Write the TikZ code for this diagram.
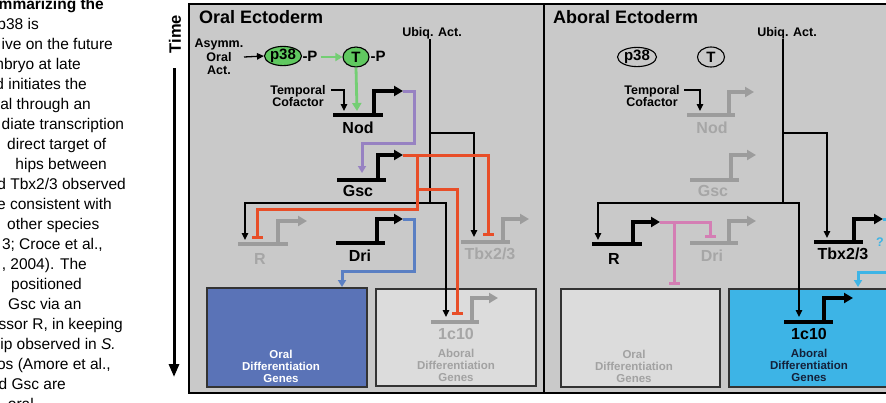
\documentclass[tikz,border=0pt]{standalone}
\usepackage{fontspec}
\setmainfont{Liberation Sans}
\usetikzlibrary{arrows.meta,shapes.geometric}
\definecolor{panelbg}{HTML}{C9C9C9}
\definecolor{offline}{HTML}{9C9C9C}
\definecolor{offtext}{HTML}{A6A6A6}
\definecolor{boxgray}{HTML}{DCDCDC}
\definecolor{boxtext}{HTML}{A2A2A2}
\definecolor{gfill}{HTML}{60C860}
\definecolor{garrow}{HTML}{74CE74}
\definecolor{repred}{HTML}{E84E28}
\definecolor{purp}{HTML}{9782C2}
\definecolor{bluec}{HTML}{5A7FC3}
\definecolor{pinkc}{HTML}{D47EB4}
\definecolor{cyanc}{HTML}{3DB4E6}
\definecolor{oralblue}{HTML}{5A73B7}
\definecolor{navytext}{HTML}{14213A}
\newcommand{\mygene}[7]{%
  \draw[gbar,#1] (#2,#4) -- (#3,#4);
  \draw[garr,#1] (#5,#4) |- (#6,#7);}
\begin{document}
\begin{tikzpicture}[x=1pt,y=-1pt,
  para/.style={font=\fontsize{15.5}{18}\selectfont, inner sep=0},
  lbl/.style={font=\bfseries\fontsize{12.5}{12.5}\selectfont, align=center, inner sep=0},
  gname/.style={font=\bfseries\fontsize{16}{18}\selectfont, inner sep=0},
  boxtxt/.style={font=\bfseries\fontsize{11.5}{12}\selectfont, align=center, inner sep=0},
  gbar/.style={line width=3.4pt},
  garr/.style={line width=3.4pt, -{Triangle[length=9pt,width=10pt]}},
  conn/.style={line width=1.3pt, -{Triangle[length=7pt,width=6.5pt]}},
  rep/.style={line width=3pt, -{Bar[width=11pt]}},
  actc/.style={line width=3pt, -{Triangle[length=7pt,width=8pt]}},
  panel/.style={draw=black, line width=2.4pt, fill=panelbg},
  dbox/.style={draw=black!80, line width=1.2pt},
  protein/.style={ellipse, draw=black, line width=1.1pt, inner sep=0,
     font=\bfseries\fontsize{15}{15}\selectfont}]
\useasboundingbox (0,0) rectangle (886,402);

% ---------------- cropped caption text ----------------
\node[para, anchor=base east, font=\bfseries\fontsize{15.5}{18}\selectfont] (p1) at (104,9) {mmarizing the};
\node[para, anchor=base east] (p2) at (39,29) {p38 is};
\node[para, anchor=base west] (p3) at (1.5,49) {ive on the future};
\node[para, anchor=base east] (p4) at (81,69) {mbryo at late};
\node[para, anchor=base east] (p5) at (87,89) {d initiates the};
\node[para, anchor=base east] (p6) at (91,109) {al through an};
\node[para, anchor=base west] (p7) at (1.5,129) {diate transcription};
\node[para, anchor=base west] (p8) at (7,149) {direct target of};
\node[para, anchor=base east] (p9) at (107,169) {hips between};
\node[para, anchor=base east] (p10) at (126,189) {d Tbx2/3 observed};
\node[para, anchor=base east] (p11) at (112,209) {e consistent with};
\node[para, anchor=base west] (p12) at (7,229) {other species};
\node[para, anchor=base east] (p13) at (103,249) {3; Croce et al.,};
\node[para, anchor=base east] (p14) at (87,269) {, 2004). The};
\node[para, anchor=base west] (p15) at (11,289) {positioned};
\node[para, anchor=base west] (p16) at (8,309) {Gsc via an};
\node[para, anchor=base east] (p17) at (123,329) {ssor R, in keeping};
\node[para, anchor=base east] (p18) at (116,349) {hip observed in \textit{S.}};
\node[para, anchor=base east] (p19) at (111,369) {os (Amore et al.,};
\node[para, anchor=base east] (p20) at (66,389) {d Gsc are};
\node[para, anchor=base east] (p21) at (34,409) {oral};

% ---------------- time arrow ----------------
\node[font=\bfseries\fontsize{16.5}{16.5}\selectfont, rotate=90, inner sep=0] (time) at (175,34) {Time};
\coordinate (ttop) at (174,68);
\coordinate (tbot) at (174,377);
\draw[line width=3pt, -{Triangle[length=13pt,width=10pt]}] (ttop) -- (tbot);

% ---------------- panels ----------------
\draw[panel] (189,4) rectangle (544,393);
\draw[panel] (544,4) rectangle (900,393);
\node[anchor=west, inner sep=0, font=\bfseries\fontsize{18}{18}\selectfont] (toral) at (199,17) {Oral Ectoderm};
\node[anchor=west, inner sep=0, font=\bfseries\fontsize{18}{18}\selectfont] (taboral) at (553,17) {Aboral Ectoderm};

% ================= ORAL ECTODERM =================
% differentiation boxes
\draw[dbox, fill=oralblue] (207,288) rectangle (367,387);
\node[boxtxt, white] (odgO) at (281,366) {Oral\\Differentiation\\Genes};
\draw[dbox, fill=boxgray] (376,289) rectangle (536,386);
\node[boxtxt, boxtext] (adgO) at (456,365) {Aboral\\Differentiation\\Genes};

% signalling
\node[lbl, font=\bfseries\fontsize{12.5}{13.5}\selectfont] (asym) at (219,57) {Asymm.\\Oral\\Act.};
\node[protein, fill=gfill, minimum width=37pt, minimum height=19pt] (p38O) at (283,56) {p38};
\node[inner sep=0, font=\bfseries\fontsize{15}{15}\selectfont] (p38P) at (310,56) {-P};
\node[protein, fill=gfill, minimum width=26pt, minimum height=20pt] (TO) at (356,57) {T};
\node[inner sep=0, font=\bfseries\fontsize{15}{15}\selectfont] (TP) at (378,56) {-P};
\coordinate (asymA) at (244,57);
\draw[conn] (asymA) -- (p38O.west);
\draw[line width=2.6pt, garrow, -{Triangle[length=7pt,width=8pt]}] (p38P.east) ++(3,1) coordinate (gA) -- (TO.west);
\coordinate (nodOin) at (357,111);
\draw[line width=2.8pt, garrow, -{Triangle[length=8pt,width=9pt]}] (TO.south) -- (nodOin);

\node[lbl, font=\bfseries\fontsize{12.5}{12}\selectfont] (tcO) at (298,96) {Temporal\\Cofactor};
\coordinate (tcOs) at (331,90);
\coordinate (tcOe) at (344,111);
\draw[conn, line width=1.2pt] (tcOs) -| (tcOe);

% genes
\mygene{black}{333}{383}{115}{374}{403}{91}
\node[gname] (nodO) at (358,128) {Nod};
\mygene{black}{337}{386}{180}{378}{403}{155}
\node[gname] (gscO) at (358,191) {Gsc};
\mygene{offline}{238}{288}{244}{278}{307}{221}
\node[gname, offtext] (rO) at (260,259) {R};
\mygene{black}{336}{385}{243}{377}{403}{219}
\node[gname] (driO) at (360,256) {Dri};
\mygene{offline}{461}{510}{242}{503}{529}{219}
\node[gname, offtext] (tbxO) at (490,254) {Tbx2/3};
\mygene{offline}{431}{479}{322}{472}{498}{298}
\node[gname, offtext] (c10O) at (456,334) {1c10};

% purple Nod -> Gsc
\coordinate (nodOtip) at (403,91);
\coordinate (gscOin) at (362,173);
\draw[actc, purp] (nodOtip) -- (414,91) -- (414,143) -- (362,143) -- (gscOin);

% ubiquitous activator
\node[lbl] (ubO) at (432,33) {Ubiq. Act.};
\coordinate (ubOj) at (430,203);
\coordinate (rOin) at (245,240);
\coordinate (c10Oin) at (446,317);
\coordinate (tbxOin) at (474,237);
\draw[line width=1.3pt] (ubO.south) ++(-2,0) coordinate (ubOs) -- (ubOj);
\draw[conn] (430,133) -| (tbxOin);
\draw[conn] (ubOj) -- (245,203) -- (rOin);
\draw[conn] (ubOj) -- (446,203) -- (c10Oin);

% red repression from Gsc
\coordinate (gscOtip) at (403,155);
\coordinate (tbxOrep) at (488,236);
\coordinate (rOrep) at (257,239);
\coordinate (c10Orep) at (457,315);
\draw[rep, repred] (gscOtip) -- (488,155) -- (tbxOrep);
\draw[rep, repred] (417,155) -- (417,209) -- (257,209) -- (rOrep);
\draw[rep, repred] (417,189) -- (457,189) -- (c10Orep);

% blue Dri -> oral differentiation
\coordinate (driOtip) at (403,219);
\coordinate (odgOin) at (342,287);
\draw[actc, bluec] (driOtip) -- (414,219) -- (414,271) -- (342,271) -- (odgOin);

% ================= ABORAL ECTODERM =================
\draw[dbox, fill=boxgray] (561,289) rectangle (720,387);
\node[boxtxt, boxtext] (odgA) at (634,366) {Oral\\Differentiation\\Genes};
\draw[dbox, fill=cyanc] (729,289) rectangle (900,387);
\node[boxtxt, navytext] (adgA) at (809,365) {Aboral\\Differentiation\\Genes};

\node[protein, minimum width=39pt, minimum height=18pt] (p38A) at (637,57) {p38};
\node[protein, minimum width=27pt, minimum height=20pt] (TA) at (711,57) {T};

\node[lbl, font=\bfseries\fontsize{12.5}{12}\selectfont] (tcA) at (652,96) {Temporal\\Cofactor};
\coordinate (tcAs) at (684,90);
\coordinate (tcAe) at (700,111);
\draw[conn, line width=1.2pt] (tcAs) -| (tcAe);

\mygene{offline}{687}{735}{115}{729}{754}{92}
\node[gname, offtext] (nodA) at (712,128) {Nod};
\mygene{offline}{690}{739}{180}{731}{756}{155}
\node[gname, offtext] (gscA) at (713,191) {Gsc};
\mygene{black}{592}{642}{244}{633}{660}{222}
\node[gname] (rA) at (614,259) {R};
\mygene{offline}{690}{738}{243}{729}{756}{221}
\node[gname, offtext] (driA) at (712,256) {Dri};
\mygene{black}{814}{863}{242}{854}{883}{219}
\node[gname] (tbxA) at (843,254) {Tbx2/3};
\mygene{black}{784}{833}{322}{824}{853}{298}
\node[gname] (c10A) at (809,334) {1c10};

% ubiquitous activator
\node[lbl] (ubA) at (787,33) {Ubiq. Act.};
\coordinate (ubAj) at (783,203);
\coordinate (rAin) at (598,240);
\coordinate (c10Ain) at (799,317);
\coordinate (tbxAin) at (827,238);
\draw[line width=1.3pt] (ubA.south) ++(-4,0) coordinate (ubAs) -- (ubAj);
\draw[conn] (783,133) -| (tbxAin);
\draw[conn] (ubAj) -- (598,203) -- (rAin);
\draw[conn] (ubAj) -- (799,203) -- (c10Ain);

% pink repression from R
\coordinate (rAtip) at (660,222);
\coordinate (driArep) at (710,238);
\coordinate (odgArep) at (674,285);
\draw[rep, pinkc] (rAtip) -- (710,222) -- (driArep);
\draw[rep, pinkc] (674,222) -- (odgArep);

% light blue from Tbx2/3
\coordinate (tbxAtip) at (883,219);
\coordinate (adgAin) at (858,287);
\draw[line width=3pt, cyanc] (tbxAtip) -- (900,219);
\draw[actc, cyanc] (900,272) -- (858,272) -- (adgAin);
\node[inner sep=0, cyanc, font=\bfseries\fontsize{12.5}{12.5}\selectfont] (qm) at (880,242) {?};
\end{tikzpicture}
\end{document}
